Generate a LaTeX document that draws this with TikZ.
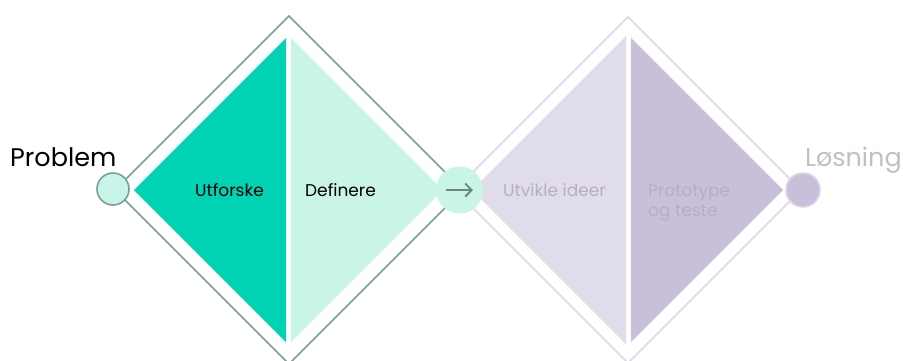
\documentclass[tikz,border=0pt]{standalone}
\usepackage{fontspec}
\setmainfont{Poppins}
\usetikzlibrary{arrows.meta}
\definecolor{teal1}{RGB}{0,210,180}
\definecolor{mint}{RGB}{200,245,232}
\definecolor{lpurp}{RGB}{225,220,234}
\definecolor{dpurp}{RGB}{200,191,218}
\definecolor{outlL}{RGB}{122,158,154}
\definecolor{outlR}{RGB}{220,214,232}
\definecolor{arrowc}{RGB}{110,132,128}
\definecolor{greytxt}{RGB}{192,192,192}
\definecolor{purptxt}{RGB}{182,175,194}
\tikzset{
  outline/.style={line width=1.6pt, line join=miter},
  dot/.style={circle, inner sep=0pt, line width=1.6pt},
  lab/.style={inner sep=0pt, font=\fontsize{17}{20}\selectfont},
  big/.style={inner sep=0pt, font=\fontsize{25.5}{28}\selectfont},
}
\begin{document}
\begin{tikzpicture}[x=1pt,y=-1pt]
\useasboundingbox (0,0) rectangle (903,360);
\begin{scope}
\clip (0,0) rectangle (903,360);
% outlines
\draw[outline, outlL] (115,190) -- (289,16) -- (463,190) -- (289,364) -- cycle;
\draw[outline, outlR] (455,190) -- (628,17) -- (801,190) -- (628,363) -- cycle;
% fills
\fill[teal1] (134,190) -- (286,38) -- (286,342) -- cycle;
\fill[mint] (291,38) -- (443,190) -- (291,342) -- cycle;
\fill[lpurp] (472,190) -- (626,36) -- (626,344) -- cycle;
\fill[dpurp] (631,38) -- (783,190) -- (631,342) -- cycle;
\end{scope}
% circles
\node[dot, draw=outlL, fill=mint, minimum size=32] (start) at (113,189) {};
\node[dot, draw=none, fill=mint, minimum size=47] (mid) at (459.5,190) {};
\node[dot, draw=outlR, fill=dpurp, minimum size=34] (end) at (803,190) {};
\coordinate (a1) at ([xshift=-13.5]mid.center);
\coordinate (a2) at ([xshift=13.5]mid.center);
\draw[arrowc, line width=1.8pt, -{Straight Barb[length=6.5pt,width=13pt]}] (a1) -- (a2);
% labels
\node[big, anchor=base west] (prob) at (10,166) {Problem};
\node[big, anchor=base east, text=greytxt] (sol) at (902,166.5) {Løsning};
\node[lab, anchor=base west] (utf) at (195,196.5) {Utforske};
\node[lab, anchor=base west] (def) at (305,196.5) {Definere};
\node[lab, anchor=base west, text=purptxt] (utv) at (503,196.5) {Utvikle ideer};
\node[lab, anchor=base west, text=purptxt] (pro) at (648,196.5) {Prototype};
\node[lab, anchor=base west, text=purptxt] (pro2) at (648,216.5) {og teste};
\end{tikzpicture}
\end{document}
